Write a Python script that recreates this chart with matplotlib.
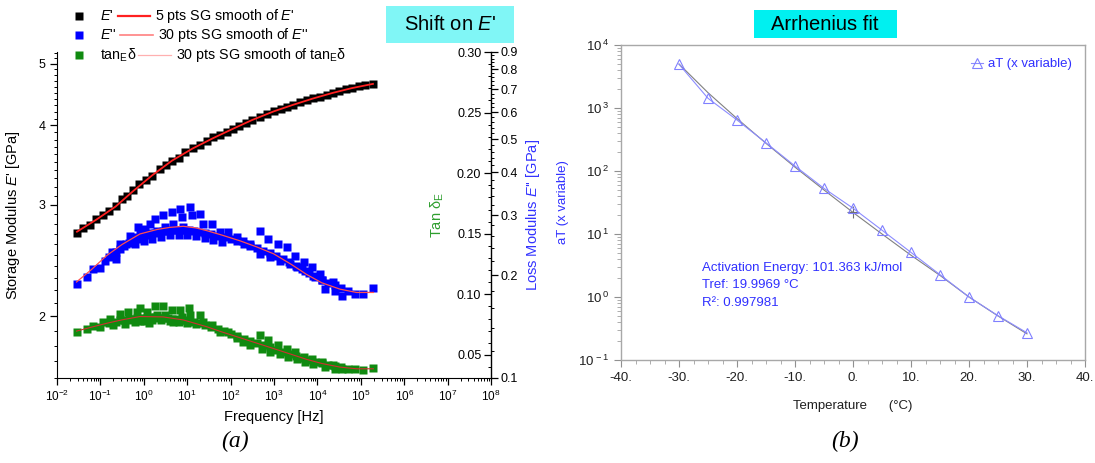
#!/usr/bin/env python3
"""
Master curve (shift on E') and Arrhenius fit of the shift factors.
"""

import numpy as np
import matplotlib
matplotlib.use("Agg")
import matplotlib.pyplot as plt
from matplotlib.lines import Line2D
from matplotlib.patches import Rectangle
from matplotlib.ticker import FixedLocator, NullFormatter, FuncFormatter, LogLocator, LogFormatterMathtext

plt.rcParams['font.family'] = ['Liberation Sans', 'DejaVu Sans']
plt.rcParams['mathtext.fontset'] = 'custom'
plt.rcParams['mathtext.rm'] = 'Liberation Sans'
plt.rcParams['mathtext.it'] = 'Liberation Sans:italic'
plt.rcParams['mathtext.bf'] = 'Liberation Sans:bold'

# ---- (a) storage modulus E' [GPa] vs log10 frequency [Hz]
estor_logf = [-1.54, -1.40, -1.25, -1.10, -0.95, -0.80, -0.65, -0.50, -0.39, -0.25,
              -0.10, 0.05, 0.20, 0.37, 0.50, 0.65, 0.80, 0.95, 1.13, 1.30,
              1.45, 1.60, 1.75, 1.91, 2.05, 2.20, 2.35, 2.50, 2.68, 2.85,
              3.00, 3.15, 3.30, 3.44, 3.60, 3.75, 3.90, 4.05, 4.21, 4.35,
              4.50, 4.65, 4.80, 4.95, 5.10, 5.28]
estor = [2.71, 2.76, 2.79, 2.85, 2.89, 2.93, 2.99, 3.06, 3.10, 3.16,
         3.23, 3.28, 3.33, 3.41, 3.47, 3.52, 3.56, 3.63, 3.68, 3.72,
         3.78, 3.83, 3.86, 3.90, 3.95, 3.99, 4.04, 4.08, 4.12, 4.17,
         4.21, 4.25, 4.28, 4.31, 4.35, 4.38, 4.42, 4.44, 4.47, 4.50,
         4.53, 4.56, 4.58, 4.61, 4.63, 4.65]
estor_smooth_logf = [-1.54, -1.10, -0.65, -0.25, 0.20, 0.65, 1.13, 1.60, 2.05, 2.50,
                     3.00, 3.44, 3.90, 4.35, 4.80, 5.28]
estor_smooth = [2.72, 2.84, 2.98, 3.15, 3.34, 3.52, 3.68, 3.82, 3.95, 4.08,
                4.21, 4.31, 4.41, 4.50, 4.58, 4.65]

# ---- loss modulus E'' [GPa]
eloss_logf = [-1.55, -1.32, -1.16, -1.01, -0.89, -0.74, -0.63, -0.55, -0.40, -0.32,
              -0.20, -0.13, -0.09, 0.03, 0.14, 0.26, 0.30, 0.45, 0.49, 0.64,
              0.68, 0.83, 0.87, 0.91, 1.07, 1.10, 1.30, 1.37, 1.56, 1.76,
              1.95, 2.14, 2.29, 2.45, 2.68, 2.68, 2.87, 2.91, 3.10, 3.14,
              3.29, 3.37, 3.48, 3.52, 3.68, 3.71, 3.87, 3.91, 4.06, 4.10,
              4.18, 4.37, 4.41, 4.56, 4.71, 4.87, 5.06, 5.29,
              -0.80, -0.65, -0.55, -0.45, -0.35, -0.25, -0.15, -0.05, 0.05, 0.15,
              0.25, 0.35, 0.45, 0.55, 0.65, 0.75, 0.85, 0.95, 1.05, 1.15,
              1.25, 1.40, 1.55, 1.70, 1.85, 2.00, 2.15, 2.30, 2.45, 2.60,
              2.75, 2.90, 3.05, 3.20, 3.35, 3.50, 3.65, 3.80, 3.95, 4.10,
              4.25, 4.40, 4.55,
              -0.20, 0.00, 0.20, 0.40, 0.60, 0.80, 1.00, 1.20, 1.40, 1.60, 1.80]
eloss = [0.188, 0.198, 0.208, 0.210, 0.220, 0.233, 0.223, 0.247, 0.246, 0.261,
         0.258, 0.276, 0.267, 0.273, 0.282, 0.292, 0.270, 0.299, 0.276, 0.306,
         0.282, 0.313, 0.296, 0.276, 0.316, 0.299, 0.302, 0.282, 0.282, 0.267,
         0.267, 0.258, 0.252, 0.247, 0.270, 0.231, 0.255, 0.226, 0.247, 0.220,
         0.241, 0.216, 0.228, 0.211, 0.218, 0.206, 0.211, 0.199, 0.202, 0.193,
         0.182, 0.191, 0.180, 0.174, 0.180, 0.176, 0.176, 0.184,
         0.226, 0.233, 0.238, 0.243, 0.248, 0.252, 0.255, 0.259, 0.262, 0.265,
         0.266, 0.268, 0.269, 0.270, 0.271, 0.272, 0.272, 0.272, 0.271, 0.270,
         0.268, 0.266, 0.264, 0.261, 0.258, 0.255, 0.251, 0.247, 0.243, 0.240,
         0.236, 0.232, 0.228, 0.223, 0.218, 0.213, 0.208, 0.203, 0.198, 0.194,
         0.190, 0.187, 0.183,
         0.246, 0.251, 0.255, 0.259, 0.262, 0.263, 0.262, 0.260, 0.257, 0.254, 0.250]
eloss_smooth_logf = [-1.55, -1.20, -0.86, -0.50, -0.09, 0.30, 0.60, 0.91, 1.20, 1.45,
                     1.80, 2.22, 2.60, 2.99, 3.40, 3.75, 4.10, 4.52, 4.90, 5.29]
eloss_smooth = [0.191, 0.208, 0.228, 0.246, 0.264, 0.272, 0.276, 0.278, 0.275, 0.270,
                0.262, 0.252, 0.242, 0.231, 0.215, 0.201, 0.190, 0.182, 0.178, 0.178]

# ---- tan delta (E)
tan_logf = [-1.55, -1.32, -1.16, -1.01, -0.93, -0.78, -0.70, -0.55, -0.43, -0.36,
            -0.28, -0.16, -0.09, -0.09, 0.07, 0.11, 0.26, 0.30, 0.45, 0.49,
            0.64, 0.68, 0.83, 0.87, 1.03, 1.07, 1.30, 1.37, 1.56, 1.76,
            1.95, 2.14, 2.29, 2.45, 2.68, 2.72, 2.87, 2.91, 3.10, 3.14,
            3.29, 3.33, 3.48, 3.52, 3.68, 3.71, 3.87, 3.91, 4.10, 4.18,
            4.37, 4.41, 4.56, 4.71, 4.87, 5.06, 5.29,
            -0.80, -0.65, -0.55, -0.45, -0.35, -0.25, -0.15, -0.05, 0.05, 0.15,
            0.25, 0.35, 0.45, 0.55, 0.65, 0.75, 0.85, 0.95, 1.05, 1.15,
            1.25, 1.40, 1.55, 1.70, 1.85, 2.00, 2.15, 2.30, 2.45, 2.60,
            2.75, 2.90, 3.05, 3.20, 3.35, 3.50, 3.65, 3.80, 3.95, 4.10,
            4.25, 4.40, 4.55,
            -0.20, 0.00, 0.20, 0.40, 0.60, 0.80, 1.00, 1.20]
tan_delta = [0.0692, 0.0714, 0.0739, 0.0728, 0.0775, 0.0797, 0.0747, 0.0836, 0.0753, 0.0858,
             0.0789, 0.0858, 0.0886, 0.0781, 0.0858, 0.0761, 0.0900, 0.0831, 0.0900, 0.0831,
             0.0872, 0.0775, 0.0872, 0.0817, 0.0886, 0.0831, 0.0831, 0.0775, 0.0747, 0.0692,
             0.0692, 0.0636, 0.0608, 0.0581, 0.0664, 0.0553, 0.0622, 0.0525, 0.0581, 0.0511,
             0.0553, 0.0483, 0.0525, 0.0470, 0.0483, 0.0442, 0.0470, 0.0428, 0.0442, 0.0400,
             0.0414, 0.0386, 0.0386, 0.0386, 0.0381, 0.0372, 0.0392,
             0.0760, 0.0775, 0.0785, 0.0790, 0.0795, 0.0800, 0.0805, 0.0808, 0.0808, 0.0810,
             0.0810, 0.0808, 0.0806, 0.0803, 0.0800, 0.0797, 0.0790, 0.0785, 0.0778, 0.0770,
             0.0760, 0.0745, 0.0730, 0.0712, 0.0695, 0.0675, 0.0655, 0.0635, 0.0617, 0.0598,
             0.0580, 0.0562, 0.0543, 0.0525, 0.0507, 0.0490, 0.0474, 0.0458, 0.0444, 0.0430,
             0.0418, 0.0407, 0.0398,
             0.0775, 0.0780, 0.0785, 0.0785, 0.0782, 0.0775, 0.0765, 0.0752]
tan_smooth_logf = [-1.55, -1.20, -0.86, -0.50, -0.09, 0.45, 0.91, 1.45, 1.80, 2.22,
                   2.60, 2.99, 3.40, 3.75, 4.10, 4.52, 4.90, 5.29]
tan_smooth = [0.0697, 0.0730, 0.0761, 0.0790, 0.0817, 0.0814, 0.0789, 0.0733, 0.0690, 0.0642,
              0.0598, 0.0553, 0.0505, 0.0464, 0.0430, 0.0400, 0.0386, 0.0386]

# ---- (b) shift factors aT vs temperature
at_temp = [-30, -25, -20, -15, -10, -5, 0, 5, 10, 15, 20, 25, 30]
at_values = [4940, 1425, 645, 280, 120, 53, 25.7, 11.5, 5.1, 2.26, 1.0, 0.505, 0.27]
at_fit = [5000, 1750, 680, 275, 115, 50, 22, 10, 4.6, 2.2, 1.0, 0.5, 0.26]
tref_mark = (0, 22)

W, H = 1095, 463
E1 = "$E$'"    # E' with a plain apostrophe
E2 = "$E$''"   # E''


def px(x, y):
    """Pixel position (from top-left) to figure fraction."""
    return x / W, 1 - y / H


fig = plt.figure(figsize=(W / 100, H / 100), dpi=100)

# ================= panel (a) =================
ax = fig.add_axes([57 / W, 1 - 378 / H, (491 - 57) / W, (378 - 52) / H])
ax_tan = ax.twinx()
ax_loss = ax.twinx()

ms = 5.2
ax_loss.plot(10 ** np.array(eloss_logf), eloss, 's', color='#0000ff', ms=ms, mec='none', zorder=2)
ax_loss.plot(10 ** np.array(eloss_smooth_logf), eloss_smooth, '-', color='#ff5050', lw=0.9, zorder=3)
ax_tan.plot(10 ** np.array(tan_logf), tan_delta, 's', color='#108a10', ms=ms, mec='none', zorder=2)
ax_tan.plot(10 ** np.array(tan_smooth_logf), tan_smooth, '-', color='#d03030', lw=0.8, zorder=3)
ax.plot(10 ** np.array(estor_logf), estor, 's', color='black', ms=ms + 0.6, mec='none', zorder=2)
ax.plot(10 ** np.array(estor_smooth_logf), estor_smooth, '-', color='#ff2020', lw=1.3, zorder=3)

ax.set_xscale('log')
ax.set_xlim(1e-2, 1e8)
ax.set_yscale('log')
ax.set_ylim(1.6, 5.22)
ax.spines['top'].set_visible(False)
ax.spines['right'].set_visible(False)
ax.xaxis.set_major_locator(LogLocator(base=10, numticks=20))
ax.xaxis.set_minor_locator(LogLocator(base=10, subs=np.arange(2, 10), numticks=200))
ax.xaxis.set_major_formatter(LogFormatterMathtext())
ax.xaxis.set_minor_formatter(NullFormatter())
ax.yaxis.set_major_locator(FixedLocator([2, 3, 4, 5]))
ax.yaxis.set_major_formatter(FuncFormatter(lambda v, p: f"{v:.0f}"))
ax.yaxis.set_minor_locator(FixedLocator([v / 10 for v in range(16, 53) if v % 10]))
ax.yaxis.set_minor_formatter(NullFormatter())
ax.tick_params(axis='both', which='major', length=5, width=0.9, labelsize=9, direction='out')
ax.tick_params(axis='both', which='minor', length=2.5, width=0.7, direction='out')
ax.tick_params(axis='x', labelsize=8.5, pad=3)
ax.set_xlabel('Frequency [Hz]', fontsize=10.5, labelpad=4)
ax.set_ylabel(f"Storage Modulus {E1} [GPa]", fontsize=10.5, labelpad=12)

# tan delta axis: ticks and labels sit just inside the right spine
ax_tan.set_ylim(0.031, 0.30)
for s in ['top', 'bottom', 'right']:
    ax_tan.spines[s].set_visible(False)
ax_tan.spines['left'].set_position(('axes', 1.0))
ax_tan.spines['left'].set_visible(False)
ax_tan.yaxis.set_ticks_position('left')
ax_tan.yaxis.set_label_position('left')
ax_tan.yaxis.set_major_locator(FixedLocator([0.05, 0.10, 0.15, 0.20, 0.25, 0.30]))
ax_tan.yaxis.set_major_formatter(FuncFormatter(lambda v, p: f"{v:.2f}"))
ax_tan.yaxis.set_minor_locator(FixedLocator([v / 100 for v in range(4, 30) if v % 5]))
ax_tan.tick_params(axis='y', which='major', length=5, width=0.9, labelsize=9, pad=2)
ax_tan.tick_params(axis='y', which='minor', length=2.5, width=0.7)
ax_tan.set_ylabel(r'Tan δ$_{\mathrm{E}}$', color='#2e9e2e', fontsize=10.5, labelpad=8)

# loss modulus axis on the right spine
ax_loss.set_yscale('log')
ax_loss.set_ylim(0.1, 0.9)
for s in ['top', 'bottom', 'left']:
    ax_loss.spines[s].set_visible(False)
ax_loss.spines['right'].set_linewidth(1.0)
ax_loss.yaxis.set_major_locator(FixedLocator([v / 10 for v in range(1, 10)]))
ax_loss.yaxis.set_major_formatter(FuncFormatter(lambda v, p: f"{v:.1f}"))
ax_loss.yaxis.set_minor_locator(FixedLocator([v / 100 for v in range(10, 91, 2) if v % 10]))
ax_loss.yaxis.set_minor_formatter(NullFormatter())
ax_loss.tick_params(axis='y', which='major', length=5, width=0.9, labelsize=9, pad=2)
ax_loss.tick_params(axis='y', which='minor', length=2.5, width=0.7)
ax_loss.set_ylabel(f"Loss Modulus {E2} [GPa]", color='#3333ff', fontsize=10.5, labelpad=4)

# hand-made legend (marker, name, line, description)
rows = [
    (16, E1, 118, 150, '#ff2020', 1.6, f'5 pts SG smooth of {E1}', 155, 'black'),
    (35, E2, 120, 153, '#ff8080', 1.2, f"30 pts SG smooth of {E2}", 158, '#0000ff'),
    (55, r'tan$_{\mathrm{E}}$δ', 138, 171, '#ffb0b0', 0.9,
     r'30 pts SG smooth of tan$_{\mathrm{E}}$δ', 176, '#108a10'),
]
for y, name, lx0, lx1, lcol, lw, desc, dx, mcol in rows:
    mx, my = px(79, y)
    fig.add_artist(Line2D([mx], [my], marker='s', color=mcol, ms=5.5, mec='none',
                          transform=fig.transFigure))
    fig.text(*px(100, y), name, fontsize=10.3, va='center', ha='left')
    x0, yy = px(lx0, y)
    x1, _ = px(lx1, y)
    fig.add_artist(Line2D([x0, x1], [yy, yy], color=lcol, lw=lw, transform=fig.transFigure))
    fig.text(*px(dx, y), desc, fontsize=10.3, va='center', ha='left')

# title boxes
x0, y0 = px(386, 43)
fig.add_artist(Rectangle((x0, y0), 128 / W, 37 / H, transform=fig.transFigure,
                         facecolor='#80f6f6', edgecolor='none'))
fig.text(*px(450, 25), f"Shift on {E1}", fontsize=14.5, ha='center', va='center')

x0, y0 = px(754, 38)
fig.add_artist(Rectangle((x0, y0), 143 / W, 28 / H, transform=fig.transFigure,
                         facecolor='#00f0f0', edgecolor='none'))
fig.text(*px(825, 24), 'Arrhenius fit', fontsize=14.5, ha='center', va='center')

# ================= panel (b) =================
ax2 = fig.add_axes([621 / W, 1 - 360 / H, (1085 - 621) / W, (360 - 45) / H])
ax2.plot(at_temp, at_fit, '-', color='#808080', lw=0.8, zorder=2)
ax2.plot([tref_mark[0]], [tref_mark[1]], '+', color='#707070', ms=8, mew=0.8, zorder=3)
ax2.plot(at_temp, at_values, '-^', color='#8c8cff', lw=0.8, ms=7.5, mfc='none',
         mec='#8080ff', mew=0.8, zorder=4, label='aT (x variable)')
ax2.set_yscale('log')
ax2.set_ylim(0.1, 1e4)
ax2.set_xlim(-40, 40)
for s in ax2.spines.values():
    s.set_color('#a8a8a8')
    s.set_linewidth(1.0)
ax2.xaxis.set_major_locator(FixedLocator([-40, -30, -20, -10, 0, 10, 20, 30, 40]))
ax2.xaxis.set_minor_locator(FixedLocator([v / 2 for v in range(-80, 81, 5) if v % 20]))
ax2.xaxis.set_major_formatter(FuncFormatter(lambda v, p: f"{v:.0f}."))
ax2.yaxis.set_major_locator(LogLocator(base=10, numticks=10))
ax2.yaxis.set_minor_locator(LogLocator(base=10, subs=np.arange(2, 10), numticks=100))
ax2.yaxis.set_major_formatter(FuncFormatter(lambda v, p: r'$10^{\,%d}$' % round(np.log10(v))))
ax2.yaxis.set_minor_formatter(NullFormatter())
ax2.tick_params(axis='both', which='major', length=5, width=0.8, color='#909090',
                labelsize=9.5, labelcolor='#202020', direction='out')
ax2.tick_params(axis='both', which='minor', length=3, width=0.6, color='#a0a0a0', direction='out')
ax2.set_xlabel('Temperature      (°C)', fontsize=9.5, labelpad=12, color='#202020')
ax2.set_ylabel('aT (x variable)', fontsize=9.5, color='#3030ff', labelpad=6)
ax2.legend(loc='upper right', frameon=False, fontsize=9.5, labelcolor='#3030ff',
           handlelength=0.9, handletextpad=0.4, borderaxespad=0.6)

notes = ['Activation Energy: 101.363 kJ/mol', 'Tref: 19.9969 °C', 'R²: 0.997981']
for i, t in enumerate(notes):
    fig.text(*px(702, 268 + 17.5 * i), t, fontsize=9.5, color='#3030ff', ha='left', va='center')

# panel labels
fig.text(*px(235, 441), '(a)', fontsize=17, family='Liberation Serif', style='italic',
         ha='center', va='center')
fig.text(*px(845, 441), '(b)', fontsize=17, family='Liberation Serif', style='italic',
         ha='center', va='center')

fig.savefig('out.png', dpi=100)
